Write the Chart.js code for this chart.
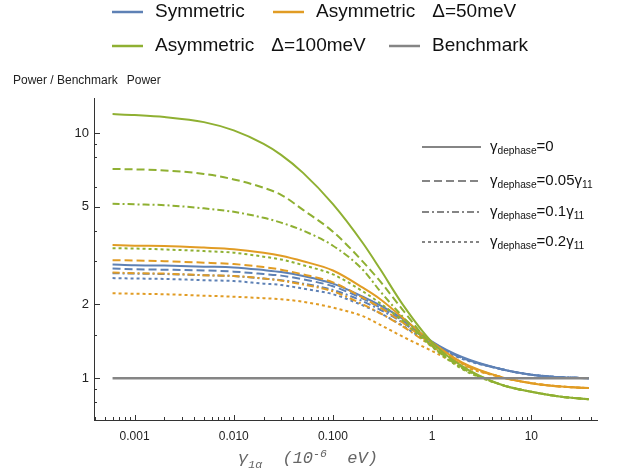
<!DOCTYPE html>
<html>
<head>
<meta charset="utf-8">
<script src="https://cdn.jsdelivr.net/npm/chart.js@4.4.1/dist/chart.umd.min.js"></script>
<style>
  html, body { margin: 0; padding: 0; background: #fff; }
</style>
</head>
<body>
<canvas id="chart" width="638" height="473"></canvas>
<script>
// gamma_1alpha values (10^-6 eV) at which the curves were read
const gammaValues = [0.0006, 0.001, 0.002, 0.005, 0.01, 0.02, 0.03, 0.05, 0.1, 0.2, 0.3, 0.5, 1, 2, 5, 10, 20, 38];

// Symmetric (blue): dephase 0, 0.05, 0.1, 0.2
const symNoDephase  = [2.91, 2.89, 2.88, 2.85, 2.83, 2.76, 2.71, 2.61, 2.43, 2.15, 1.98, 1.75, 1.41, 1.22, 1.088, 1.033, 1.009, 1.00];
const symDephase005 = [2.80, 2.78, 2.77, 2.75, 2.72, 2.66, 2.62, 2.53, 2.37, 2.11, 1.94, 1.72, 1.40, 1.21, 1.088, 1.033, 1.009, 1.00];
const symDephase01  = [2.68, 2.67, 2.66, 2.63, 2.61, 2.55, 2.51, 2.43, 2.29, 2.06, 1.90, 1.69, 1.39, 1.21, 1.088, 1.033, 1.009, 1.00];
const symDephase02  = [2.56, 2.55, 2.54, 2.51, 2.49, 2.43, 2.40, 2.32, 2.20, 1.98, 1.84, 1.64, 1.37, 1.20, 1.088, 1.033, 1.009, 1.00];

// Asymmetric, delta = 50 meV (orange)
const a50NoDephase  = [3.49, 3.47, 3.46, 3.41, 3.36, 3.25, 3.16, 3.00, 2.75, 2.34, 2.10, 1.77, 1.40, 1.16, 1.01, 0.954, 0.924, 0.911];
const a50Dephase005 = [3.03, 3.02, 3.00, 2.96, 2.92, 2.84, 2.77, 2.65, 2.46, 2.13, 1.94, 1.69, 1.37, 1.15, 1.01, 0.954, 0.924, 0.911];
const a50Dephase01  = [2.70, 2.68, 2.67, 2.63, 2.61, 2.55, 2.50, 2.41, 2.26, 2.00, 1.84, 1.63, 1.35, 1.14, 1.01, 0.954, 0.924, 0.911];
const a50Dephase02  = [2.22, 2.21, 2.20, 2.17, 2.15, 2.12, 2.10, 2.05, 1.94, 1.79, 1.65, 1.48, 1.29, 1.12, 1.01, 0.954, 0.924, 0.911];

// Asymmetric, delta = 100 meV (green)
const a100NoDephase  = [11.95, 11.84, 11.62, 11.08, 10.25, 9.03, 8.15, 6.88, 5.13, 3.56, 2.78, 2.01, 1.40, 1.12, 0.94, 0.88, 0.84, 0.82];
const a100Dephase005 = [7.14, 7.11, 7.04, 6.81, 6.47, 5.98, 5.60, 4.86, 3.96, 2.99, 2.48, 1.91, 1.36, 1.11, 0.94, 0.88, 0.84, 0.82];
const a100Dephase01  = [5.15, 5.12, 5.08, 4.93, 4.77, 4.51, 4.31, 4.00, 3.47, 2.77, 2.26, 1.79, 1.35, 1.10, 0.94, 0.88, 0.84, 0.82];
const a100Dephase02  = [3.39, 3.38, 3.35, 3.30, 3.25, 3.13, 3.05, 2.89, 2.65, 2.26, 2.02, 1.72, 1.34, 1.09, 0.94, 0.88, 0.84, 0.82];

const benchmark = [1, 1, 1, 1, 1, 1, 1, 1, 1, 1, 1, 1, 1, 1, 1, 1, 1, 1];

const legendLabels = ['Symmetric', 'Asymmetric  Δ=50meV', 'Asymmetric  Δ=100meV', 'Benchmark'];
const dephaseLabels = ['0', '0.05', '0.1', '0.2'];

const xMajorTicks = [0.001, 0.01, 0.1, 1, 10];
const xMajorLabels = ['0.001', '0.010', '0.100', '1', '10'];
const yMajorTicks = [1, 2, 5, 10];
const yMinorTicks = [0.8, 0.9, 1.5, 3, 4, 6, 8, 9];

const BLUE = '#5e81b5', ORANGE = '#e19c24', GREEN = '#8fb032', GREY = '#858585';
const FONT = "'Liberation Sans', Arial, sans-serif";
const dashes = [[], [8, 4], [7, 3, 2, 3], [3, 3]];

function pts(ys) { return gammaValues.map((x, i) => ({ x: x, y: ys[i] })); }

function line(label, ys, color, style, width) {
  return {
    label: label,
    data: pts(ys),
    borderColor: color,
    borderWidth: width || 2,
    borderDash: dashes[style],
    pointRadius: 0,
    fill: false,
    cubicInterpolationMode: 'monotone'
  };
}

const datasets = [
  line(legendLabels[3], benchmark, GREY, 0, 2.5),
  line(legendLabels[2], a100NoDephase, GREEN, 0),
  line(legendLabels[2], a100Dephase005, GREEN, 1),
  line(legendLabels[2], a100Dephase01, GREEN, 2),
  line(legendLabels[2], a100Dephase02, GREEN, 3),
  line(legendLabels[1], a50NoDephase, ORANGE, 0),
  line(legendLabels[1], a50Dephase005, ORANGE, 1),
  line(legendLabels[1], a50Dephase01, ORANGE, 2),
  line(legendLabels[1], a50Dephase02, ORANGE, 3),
  line(legendLabels[0], symNoDephase, BLUE, 0),
  line(legendLabels[0], symDephase005, BLUE, 1),
  line(legendLabels[0], symDephase01, BLUE, 2),
  line(legendLabels[0], symDephase02, BLUE, 3)
];

// draw text pieces with sub/superscripts, returns end x
function rich(ctx, parts, x, y, size, family, style) {
  parts.forEach(p => {
    const small = p[1] !== 'n';
    const s = small ? size * 0.68 : size;
    ctx.font = (style || '') + ' ' + s + 'px ' + family;
    const dy = p[1] === 'sub' ? size * 0.28 : (p[1] === 'sup' ? -size * 0.38 : 0);
    ctx.fillText(p[0], x, y + dy);
    x += ctx.measureText(p[0]).width;
  });
  return x;
}

const decor = {
  id: 'decor',
  afterDraw(chart) {
    const ctx = chart.ctx, a = chart.chartArea;
    const xs = chart.scales.x, ys = chart.scales.y;
    ctx.save();

    // axes and inward ticks
    ctx.strokeStyle = '#333';
    ctx.lineWidth = 1;
    ctx.beginPath();
    ctx.moveTo(a.left, a.bottom + 0.5); ctx.lineTo(a.right, a.bottom + 0.5);
    ctx.moveTo(a.left + 0.5, a.top); ctx.lineTo(a.left + 0.5, a.bottom + 1);
    xs.ticks.forEach(t => {
      const px = Math.round(xs.getPixelForValue(t.value)) + 0.5;
      ctx.moveTo(px, a.bottom); ctx.lineTo(px, a.bottom - (t.major ? 5 : 3));
    });
    ys.ticks.forEach(t => {
      const py = Math.round(ys.getPixelForValue(t.value)) + 0.5;
      ctx.moveTo(a.left, py); ctx.lineTo(a.left + (t.major ? 6 : 3), py);
    });
    ctx.stroke();

    // top legend
    const cols = [BLUE, ORANGE, GREEN, GREY];
    const spots = [[112, 155, 12], [273, 316, 12], [112, 155, 46], [389, 432, 46]];
    ctx.textBaseline = 'middle';
    ctx.font = '19px ' + FONT;
    legendLabels.forEach((lab, i) => {
      const s = spots[i];
      ctx.strokeStyle = cols[i];
      ctx.lineWidth = 2.5;
      ctx.beginPath(); ctx.moveTo(s[0], s[2]); ctx.lineTo(s[0] + 31, s[2]); ctx.stroke();
      ctx.fillStyle = '#111';
      const bits = lab.split('  ');
      ctx.fillText(bits[0], s[1], s[2]);
      if (bits[1]) ctx.fillText(bits[1], s[1] + ctx.measureText(bits[0]).width + 17, s[2]);
    });

    // dephasing legend
    const rows = [147, 181, 212, 242];
    dephaseLabels.forEach((d, i) => {
      ctx.strokeStyle = GREY;
      ctx.lineWidth = 2;
      ctx.setLineDash(dashes[i]);
      ctx.beginPath(); ctx.moveTo(422, rows[i]); ctx.lineTo(481, rows[i]); ctx.stroke();
      ctx.setLineDash([]);
      ctx.fillStyle = '#111';
      const parts = [['γ', 'n'], ['dephase', 'sub'], ['=' + d, 'n']];
      if (d !== '0') parts.push(['γ', 'n'], ['11', 'sub']);
      rich(ctx, parts, 490, rows[i], 15, FONT);
    });

    // axis titles
    ctx.fillStyle = '#222';
    ctx.textBaseline = 'alphabetic';
    ctx.font = '12px ' + FONT;
    ctx.fillText('Power / Benchmark', 13, 84);
    ctx.fillText('Power', 13 + ctx.measureText('Power / Benchmark').width + 9, 84);

    ctx.fillStyle = '#666';
    rich(ctx, [['γ', 'n'], ['1α', 'sub'], ['  (10', 'n'], ['-6', 'sup'], ['  eV)', 'n']],
      238, 463, 17, "'Liberation Mono', 'DejaVu Sans Mono', monospace", 'italic');
    ctx.restore();
  }
};

new Chart(document.getElementById('chart'), {
  type: 'line',
  data: { datasets: datasets },
  options: {
    responsive: false,
    animation: false,
    layout: { padding: { top: 98, right: 40, left: 0, bottom: 0 } },
    plugins: { legend: { display: false }, tooltip: { enabled: false } },
    scales: {
      x: {
        type: 'logarithmic',
        min: 0.00039,
        max: 47,
        border: { display: false },
        grid: { display: false, drawTicks: false },
        afterBuildTicks(scale) {
          const t = [];
          for (let e = -4; e <= 1; e++) {
            for (let m = 1; m <= 9; m++) {
              const v = m * Math.pow(10, e);
              if (v < scale.min || v > scale.max) continue;
              const k = xMajorTicks.findIndex(q => Math.abs(q - v) / q < 1e-9);
              t.push({ value: v, major: k >= 0, lbl: k >= 0 ? xMajorLabels[k] : '' });
            }
          }
          scale.ticks = t;
        },
        afterFit(scale) { scale.height = 53; },
        ticks: {
          autoSkip: false,
          maxRotation: 0,
          padding: 9,
          color: '#222',
          font: { family: FONT, size: 12 },
          callback: (v, i, ticks) => ticks[i].lbl
        }
      },
      y: {
        type: 'logarithmic',
        min: 0.675,
        max: 13.9,
        border: { display: false },
        grid: { display: false, drawTicks: false },
        afterBuildTicks(scale) {
          const t = yMinorTicks.map(v => ({ value: v, major: false }))
            .concat(yMajorTicks.map(v => ({ value: v, major: true })));
          t.sort((p, q) => p.value - q.value);
          scale.ticks = t;
        },
        afterFit(scale) { scale.width = 94; },
        ticks: {
          autoSkip: false,
          padding: 5,
          color: '#222',
          font: { family: FONT, size: 13 },
          callback: (v, i, ticks) => ticks[i].major ? String(ticks[i].value) : ''
        }
      }
    }
  },
  plugins: [decor]
});
</script>
</body>
</html>
